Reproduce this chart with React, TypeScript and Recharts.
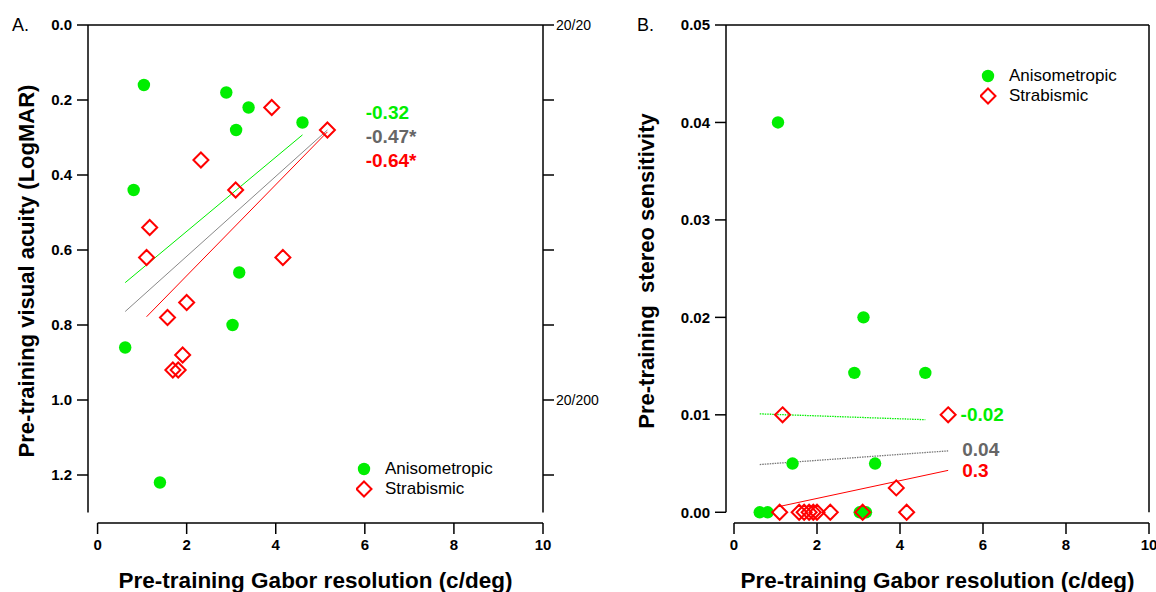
import React from 'react';
import {
  ScatterChart, Scatter, XAxis, YAxis, ReferenceLine, ReferenceDot,
} from 'recharts';

// ---------- Data ----------
const gaborTicks = [0, 2, 4, 6, 8, 10];

// Panel A: pre-training Gabor resolution vs visual acuity (LogMAR)
const anisoGaborA = [1.04, 2.89, 3.39, 3.11, 4.6, 0.81, 3.18, 3.03, 0.62, 1.4];
const anisoAcuity = [0.16, 0.18, 0.22, 0.28, 0.26, 0.44, 0.66, 0.8, 0.86, 1.22];
const strabGaborA = [3.91, 2.32, 3.1, 5.16, 1.17, 1.1, 4.16, 2.0, 1.57, 1.91, 1.69, 1.81];
const strabAcuity = [0.22, 0.36, 0.44, 0.28, 0.54, 0.62, 0.62, 0.74, 0.78, 0.88, 0.92, 0.92];
const acuityTicks = [0, 0.2, 0.4, 0.6, 0.8, 1.0, 1.2];
const snellenLabels: Record<string, string> = { '0': '20/20', '1': '20/200' };

const fitAnisoA = [{ x: 0.62, y: 0.687 }, { x: 4.6, y: 0.293 }];
const fitAllA = [{ x: 0.62, y: 0.764 }, { x: 5.16, y: 0.28 }];
const fitStrabA = [{ x: 1.1, y: 0.778 }, { x: 5.16, y: 0.285 }];
const corrA = ['-0.32', '-0.47*', '-0.64*'];

// Panel B: pre-training Gabor resolution vs stereo sensitivity
const anisoGaborB = [1.06, 3.12, 2.9, 4.61, 1.41, 3.4, 0.62, 0.81, 3.03, 3.18];
const anisoStereo = [0.04, 0.02, 0.0143, 0.0143, 0.005, 0.005, 0, 0, 0, 0];
const strabGaborB = [1.17, 5.16, 3.91, 1.1, 1.57, 1.69, 1.81, 1.91, 2.0, 2.32, 3.1, 4.16];
const strabStereo = [0.01, 0.01, 0.0025, 0, 0, 0, 0, 0, 0, 0, 0, 0];
const stereoTicks = [0, 0.01, 0.02, 0.03, 0.04, 0.05];

const fitAnisoB = [{ x: 0.62, y: 0.0101 }, { x: 4.61, y: 0.0095 }];
const fitAllB = [{ x: 0.62, y: 0.0049 }, { x: 5.16, y: 0.0063 }];
const fitStrabB = [{ x: 1.1, y: 0.0006 }, { x: 5.16, y: 0.0043 }];
const corrB = ['-0.02', '0.04', '0.3'];

const seriesNames = ['Anisometropic', 'Strabismic'];

// ---------- Styles ----------
const GREEN = '#00ee00';
const RED = '#ff0000';
const GRAY = '#666666';
const FONT = '"Liberation Sans", Arial, Helvetica, sans-serif';

const zip = (xs: number[], ys: number[]) => xs.map((x, i) => ({ x, y: ys[i] }));

const Circle = (p: any) => <circle cx={p.cx} cy={p.cy} r={6.2} fill={GREEN} />;
const Diamond = (p: any) => (
  <path
    d={`M${p.cx},${p.cy - 7.5}L${p.cx + 7.5},${p.cy}L${p.cx},${p.cy + 7.5}L${p.cx - 7.5},${p.cy}Z`}
    fill="none"
    stroke={RED}
    strokeWidth={2}
  />
);
const NoShape = () => <g />;

const tickBold = { fontSize: 15, fontWeight: 'bold', fill: '#000', fontFamily: FONT };

const LegendBox = ({ left, top }: { left: number; top: number }) => (
  <div style={{ position: 'absolute', left, top, fontFamily: FONT, fontSize: 17, color: '#000', lineHeight: '20px' }}>
    {seriesNames.map((n, i) => (
      <div key={n} style={{ display: 'flex', alignItems: 'center', height: 20, whiteSpace: 'nowrap' }}>
        <svg width={22} height={20} style={{ marginRight: 7 }}>
          {i === 0 ? (
            <circle cx={8} cy={10} r={6.2} fill={GREEN} />
          ) : (
            <path d="M8,2.5L15.5,10L8,17.5L0.5,10Z" fill="none" stroke={RED} strokeWidth={2} />
          )}
        </svg>
        <span>{n}</span>
      </div>
    ))}
  </div>
);

const yTitle = (text: string, dx: number) => (props: any) => {
  const vb = props.viewBox;
  const cx = vb.x + dx;
  const cy = vb.y + vb.height / 2 - 3;
  return (
    <text
      x={cx}
      y={cy}
      transform={`rotate(-90, ${cx}, ${cy})`}
      textAnchor="middle"
      dominantBaseline="central"
      style={{ fontFamily: FONT, fontSize: 22, fontWeight: 'bold', fill: '#000', whiteSpace: 'pre' }}
    >
      {text}
    </text>
  );
};

const xTitle = (text: string) => (props: any) => {
  const vb = props.viewBox;
  return (
    <text
      x={vb.x + vb.width / 2}
      y={vb.y + 57}
      textAnchor="middle"
      dominantBaseline="central"
      style={{ fontFamily: FONT, fontSize: 22.5, fontWeight: 'bold', fill: '#000' }}
    >
      {text}
    </text>
  );
};

const panelLetter = (text: string, dx: number) => (props: any) => {
  const vb = props.viewBox;
  return (
    <text
      x={vb.x + dx}
      y={vb.y + vb.height}
      textAnchor="start"
      dominantBaseline="central"
      style={{ fontFamily: FONT, fontSize: 18, fill: '#000' }}
    >
      {text}
    </text>
  );
};

const annot = (text: string, color: string, size: number) => (p: any) => (
  <text
    x={p.cx}
    y={p.cy}
    textAnchor="start"
    dominantBaseline="central"
    style={{ fontFamily: FONT, fontSize: size, fontWeight: 'bold', fill: color }}
  >
    {text}
  </text>
);

const axisStroke = { stroke: '#000', strokeWidth: 1.5 };

// ---------- Panel A ----------
const xDomA: [number, number] = [-0.215, 10];
const yDomA: [number, number] = [0, 1.328];

const PanelA = () => (
  <ScatterChart
    width={600}
    height={592}
    margin={{ top: 5, right: 7, bottom: 29, left: 28 }}
  >
    <XAxis
      xAxisId="b" type="number" dataKey="x" domain={xDomA} ticks={gaborTicks}
      allowDataOverflow orientation="bottom" height={40} axisLine={false}
      tickSize={11} tickMargin={5} tickLine={axisStroke} tick={tickBold}
      label={{ content: xTitle('Pre-training Gabor resolution (c/deg)') }}
    />
    <XAxis
      xAxisId="t" type="number" dataKey="x" domain={xDomA} ticks={gaborTicks}
      allowDataOverflow orientation="top" height={20} axisLine={axisStroke}
      tickSize={10} tickLine={axisStroke} tick={false}
      label={{ content: panelLetter('A.', -76) }}
    />
    <YAxis
      yAxisId="l" type="number" dataKey="y" domain={yDomA} ticks={acuityTicks}
      reversed allowDataOverflow width={60} axisLine={false}
      tickSize={11} tickMargin={5} tickLine={axisStroke} tick={tickBold}
      tickFormatter={(v: number) => v.toFixed(1)}
      label={{ content: yTitle('Pre-training visual acuity (LogMAR)', -2) }}
    />
    <YAxis
      yAxisId="r" orientation="right" type="number" dataKey="y" domain={yDomA} ticks={acuityTicks}
      reversed allowDataOverflow width={50} axisLine={false}
      tickSize={11} tickMargin={2} tickLine={axisStroke}
      tick={{ fontSize: 14, fill: '#000', fontFamily: FONT }}
      tickFormatter={(v: number) => snellenLabels[String(Math.round(v * 10) / 10)] ?? ''}
    />
    {/* detached axis lines */}
    <ReferenceLine xAxisId="b" yAxisId="l" ifOverflow="visible" segment={[{ x: xDomA[0], y: 0 }, { x: xDomA[0], y: 1.3 }]} {...axisStroke} />
    <ReferenceLine xAxisId="b" yAxisId="l" ifOverflow="visible" segment={[{ x: 10, y: 0 }, { x: 10, y: 1.3 }]} {...axisStroke} />
    <ReferenceLine xAxisId="b" yAxisId="l" ifOverflow="visible" segment={[{ x: 0, y: yDomA[1] }, { x: 10, y: yDomA[1] }]} {...axisStroke} />

    <Scatter xAxisId="b" yAxisId="l" data={fitAnisoA} line={{ stroke: GREEN, strokeWidth: 1 }} shape={NoShape} legendType="none" isAnimationActive={false} />
    <Scatter xAxisId="b" yAxisId="l" data={fitAllA} line={{ stroke: '#888', strokeWidth: 1 }} shape={NoShape} legendType="none" isAnimationActive={false} />
    <Scatter xAxisId="b" yAxisId="l" data={fitStrabA} line={{ stroke: RED, strokeWidth: 1 }} shape={NoShape} legendType="none" isAnimationActive={false} />
    <Scatter xAxisId="b" yAxisId="l" name={seriesNames[0]} data={zip(anisoGaborA, anisoAcuity)} shape={Circle} isAnimationActive={false} />
    <Scatter xAxisId="b" yAxisId="l" name={seriesNames[1]} data={zip(strabGaborA, strabAcuity)} shape={Diamond} isAnimationActive={false} />

    <ReferenceDot xAxisId="b" yAxisId="l" x={6.02} y={0.232} ifOverflow="visible" shape={annot(corrA[0], GREEN, 19)} />
    <ReferenceDot xAxisId="b" yAxisId="l" x={6.02} y={0.297} ifOverflow="visible" shape={annot(corrA[1], GRAY, 19)} />
    <ReferenceDot xAxisId="b" yAxisId="l" x={6.02} y={0.362} ifOverflow="visible" shape={annot(corrA[2], RED, 19)} />
  </ScatterChart>
);

// ---------- Panel B ----------
const xDomB: [number, number] = [-0.193, 10];
const yDomB: [number, number] = [-0.0011, 0.05];

const PanelB = () => (
  <ScatterChart
    width={600}
    height={592}
    margin={{ top: 5, right: 11, bottom: 29, left: 66 }}
  >
    <XAxis
      xAxisId="b" type="number" dataKey="x" domain={xDomB} ticks={gaborTicks}
      allowDataOverflow orientation="bottom" height={40} axisLine={false}
      tickSize={11} tickMargin={5} tickLine={axisStroke} tick={tickBold}
      label={{ content: xTitle('Pre-training Gabor resolution (c/deg)') }}
    />
    <XAxis
      xAxisId="t" type="number" dataKey="x" domain={xDomB} ticks={gaborTicks}
      allowDataOverflow orientation="top" height={20} axisLine={axisStroke}
      tickSize={10} tickLine={axisStroke} tick={false}
      label={{ content: panelLetter('B.', -89) }}
    />
    <YAxis
      yAxisId="l" type="number" dataKey="y" domain={yDomB} ticks={stereoTicks}
      allowDataOverflow width={60} axisLine={false}
      tickSize={11} tickMargin={5} tickLine={axisStroke} tick={tickBold}
      tickFormatter={(v: number) => v.toFixed(2)}
      label={{ content: yTitle('Pre-training  stereo sensitivity', -20) }}
    />
    <YAxis
      yAxisId="r" orientation="right" type="number" dataKey="y" domain={yDomB} ticks={stereoTicks}
      allowDataOverflow width={40} axisLine={false}
      tickSize={11} tickLine={axisStroke} tick={false}
    />
    <ReferenceLine xAxisId="b" yAxisId="l" ifOverflow="visible" segment={[{ x: xDomB[0], y: 0 }, { x: xDomB[0], y: 0.05 }]} {...axisStroke} />
    <ReferenceLine xAxisId="b" yAxisId="l" ifOverflow="visible" segment={[{ x: 10, y: 0 }, { x: 10, y: 0.05 }]} {...axisStroke} />
    <ReferenceLine xAxisId="b" yAxisId="l" ifOverflow="visible" segment={[{ x: 0, y: yDomB[0] }, { x: 10, y: yDomB[0] }]} {...axisStroke} />

    <Scatter xAxisId="b" yAxisId="l" data={fitAnisoB} line={{ stroke: GREEN, strokeWidth: 1.3, strokeDasharray: '1.5 1' }} shape={NoShape} legendType="none" isAnimationActive={false} />
    <Scatter xAxisId="b" yAxisId="l" data={fitAllB} line={{ stroke: '#777', strokeWidth: 1.3, strokeDasharray: '1.5 1' }} shape={NoShape} legendType="none" isAnimationActive={false} />
    <Scatter xAxisId="b" yAxisId="l" data={fitStrabB} line={{ stroke: RED, strokeWidth: 1 }} shape={NoShape} legendType="none" isAnimationActive={false} />
    <Scatter xAxisId="b" yAxisId="l" name={seriesNames[0]} data={zip(anisoGaborB, anisoStereo)} shape={Circle} isAnimationActive={false} />
    <Scatter xAxisId="b" yAxisId="l" name={seriesNames[1]} data={zip(strabGaborB, strabStereo)} shape={Diamond} isAnimationActive={false} />

    <ReferenceDot xAxisId="b" yAxisId="l" x={5.46} y={0.01} ifOverflow="visible" shape={annot(corrB[0], GREEN, 19)} />
    <ReferenceDot xAxisId="b" yAxisId="l" x={5.5} y={0.0064} ifOverflow="visible" shape={annot(corrB[1], GRAY, 19)} />
    <ReferenceDot xAxisId="b" yAxisId="l" x={5.5} y={0.0043} ifOverflow="visible" shape={annot(corrB[2], RED, 19)} />
  </ScatterChart>
);

export default function App() {
  return (
    <div style={{ position: 'absolute', left: 0, top: 0, width: 1156, height: 592, overflow: 'hidden', background: '#fff' }}>
      <div style={{ position: 'absolute', left: 0, top: 0, width: 600, height: 592 }}>
        <PanelA />
        <LegendBox left={356} top={459} />
      </div>
      <div style={{ position: 'absolute', left: 600, top: 0, width: 600, height: 592 }}>
        <PanelB />
        <LegendBox left={380} top={66} />
      </div>
    </div>
  );
}
